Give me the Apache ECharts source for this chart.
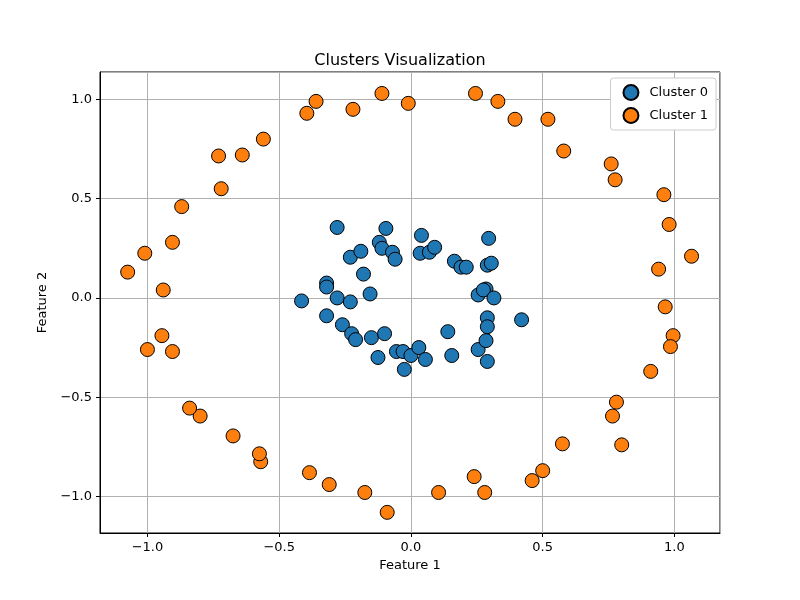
<!DOCTYPE html>
<html><head><meta charset="utf-8">
<script src="https://cdn.jsdelivr.net/npm/echarts@6/dist/echarts.min.js"></script>
<style>html,body{margin:0;padding:0;background:#fff}#c{width:800px;height:600px}</style>
</head><body><div id="c"></div>
<script>
const seriesNames = ['Cluster 0', 'Cluster 1'];
const cluster0 = [
[-0.415,-0.015],[-0.32,0.075],[-0.32,0.055],[-0.28,0.355],[-0.28,0.0],[-0.32,-0.09],[-0.26,-0.135],[-0.23,-0.02],[-0.23,0.205],[-0.19,0.235],
[-0.18,0.12],[-0.225,-0.18],[-0.21,-0.21],[-0.155,0.02],[-0.15,-0.2],[-0.125,-0.3],[-0.1,-0.18],[-0.12,0.28],[-0.11,0.25],[-0.095,0.35],
[-0.07,0.23],[-0.06,0.195],[-0.055,-0.27],[-0.025,-0.36],[-0.03,-0.27],[0.0,-0.29],[0.03,-0.25],[0.04,0.315],[0.035,0.225],[0.07,0.23],
[0.09,0.255],[0.055,-0.31],[0.14,-0.17],[0.155,-0.29],[0.165,0.185],[0.19,0.155],[0.21,0.155],[0.255,0.015],[0.255,-0.26],[0.285,0.045],
[0.275,0.04],[0.295,0.3],[0.29,0.165],[0.305,0.175],[0.315,0.0],[0.29,-0.1],[0.29,-0.145],[0.285,-0.215],[0.29,-0.32],[0.42,-0.11]];
const cluster1 = [
[-0.395,0.93],[-0.36,0.99],[-0.22,0.95],[-0.11,1.03],[-0.01,0.98],[0.245,1.03],[0.33,0.99],[0.395,0.9],[0.52,0.9],[0.58,0.74],
[0.76,0.675],[0.775,0.595],[0.96,0.52],[0.98,0.37],[1.065,0.21],[0.94,0.145],[0.965,-0.045],[0.995,-0.19],[0.985,-0.245],[0.91,-0.37],
[0.78,-0.525],[0.765,-0.595],[0.8,-0.74],[0.575,-0.735],[0.5,-0.87],[0.46,-0.92],[0.24,-0.9],[0.28,-0.98],[0.105,-0.98],[-0.09,-1.08],
[-0.175,-0.98],[-0.31,-0.94],[-0.385,-0.88],[-0.57,-0.825],[-0.575,-0.785],[-0.675,-0.695],[-0.8,-0.595],[-0.84,-0.555],[-0.905,-0.27],[-1.0,-0.26],
[-0.945,-0.19],[-0.94,0.04],[-1.075,0.13],[-1.01,0.225],[-0.905,0.28],[-0.87,0.46],[-0.72,0.55],[-0.73,0.715],[-0.64,0.72],[-0.56,0.8]];
const colors = ['#1f77b4', '#ff7f0e'];
const fmt = v => (Math.abs(v*2 - Math.round(v*2)) < 1e-6) ? v.toFixed(1).replace('-', '\u2212') : '';
const ax = (name, min, max, gap) => ({
  type: 'value', name, nameLocation: 'middle', nameGap: gap, min, max,
  nameTextStyle: {color: '#000', fontSize: 13, fontFamily: 'DejaVu Sans'},
  axisLine: {show: true, onZero: false, lineStyle: {color: '#000'}},
  axisTick: {show: true, length: 4, lineStyle: {color: '#000'}},
  axisLabel: {color: '#000', fontSize: 13, fontFamily: 'DejaVu Sans', formatter: fmt, showMinLabel: false, showMaxLabel: false},
  splitLine: {show: true, lineStyle: {color: '#b0b0b0', width: 1}}
});
const chart = echarts.init(document.getElementById('c'));
chart.setOption({
  animation: false,
  title: {text: 'Clusters Visualization', left: 'center', top: 48, textStyle: {fontSize: 16, fontWeight: 'normal', color: '#000', fontFamily: 'DejaVu Sans'}},
  grid: {left: 100, right: 80, top: 72, bottom: 67, show: true, borderColor: '#000', borderWidth: 1},
  legend: {right: 84, top: 78, orient: 'vertical', itemGap: 6, itemWidth: 15, itemHeight: 15, padding: [6,8,6,12],
    borderColor: '#ccc', borderWidth: 1, borderRadius: 3, backgroundColor: '#fff',
    textStyle: {fontSize: 13, color: '#000', fontFamily: 'DejaVu Sans', padding: [0,0,0,6]}},
  xAxis: ax('Feature 1', -1.18, 1.173, 26),
  yAxis: ax('Feature 2', -1.184, 1.138, 50),
  series: [cluster0, cluster1].map((d, i) => ({
    name: seriesNames[i], type: 'scatter', data: d, symbolSize: 14,
    itemStyle: {color: colors[i], borderColor: '#000', borderWidth: 1, opacity: 1}
  }))
});
</script></body></html>
